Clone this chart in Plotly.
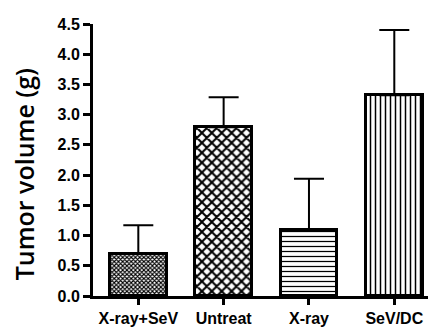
import plotly.graph_objects as go

categories = ["X-ray+SeV", "Untreat", "X-ray", "SeV/DC"]
means = [0.70, 2.79, 1.09, 3.32]
errors = [0.47, 0.50, 0.85, 1.08]
y_ticks = [0.0, 0.5, 1.0, 1.5, 2.0, 2.5, 3.0, 3.5, 4.0, 4.5]
y_tick_labels = ["0.0", "0.5", "1.0", "1.5", "2.0", "2.5", "3.0", "3.5", "4.0", "4.5"]
y_title = "Tumor volume (g)"

patterns = [
    dict(shape="x", size=3, solidity=0.6, fgcolor="black", bgcolor="white", fillmode="replace"),
    dict(shape="x", size=7, solidity=0.5, fgcolor="black", bgcolor="white", fillmode="replace"),
    dict(shape="-", size=5, solidity=0.25, fgcolor="black", bgcolor="white", fillmode="replace"),
    dict(shape="|", size=5, solidity=0.3, fgcolor="black", bgcolor="white", fillmode="replace"),
]

fig = go.Figure()
for i, cat in enumerate(categories):
    fig.add_trace(go.Bar(
        x=[i], y=[means[i]], width=0.665,
        marker=dict(color="white", line=dict(color="black", width=3), pattern=patterns[i]),
        error_y=dict(type="data", symmetric=False, array=[errors[i]], arrayminus=[0],
                     color="black", thickness=2, width=15),
        showlegend=False, hoverinfo="skip",
    ))

fig.update_layout(
    width=428, height=327,
    margin=dict(l=93, r=0, t=24, b=28),
    paper_bgcolor="white", plot_bgcolor="white",
    bargap=0,
    font=dict(family="Liberation Sans, Arial", color="black"),
)
fig.update_xaxes(
    range=[-0.531, 3.395],
    tickmode="array", tickvals=list(range(len(categories))),
    ticktext=["<b>%s</b>" % c for c in categories],
    showline=True, linecolor="black", linewidth=3,
    ticks="outside", ticklen=6, tickwidth=2.5, tickcolor="black",
    tickfont=dict(family="Liberation Sans, Arial", size=16, color="black"),
    showgrid=False, zeroline=False,
)
fig.update_yaxes(
    range=[0, 4.5],
    tickmode="array", tickvals=y_ticks,
    ticktext=["<b>%s</b>" % t for t in y_tick_labels],
    showline=True, linecolor="black", linewidth=3,
    ticks="outside", ticklen=7, tickwidth=2.5, tickcolor="black",
    tickfont=dict(family="Liberation Sans, Arial", size=16, color="black"),
    showgrid=False, zeroline=False,
)
fig.add_annotation(
    text=y_title, textangle=-90, showarrow=False,
    xref="paper", yref="paper", x=(24 - 93) / 335, y=(299 - 176) / 275,
    xanchor="center", yanchor="middle",
    font=dict(family="Open Sans", size=25, color="black", weight=600),
)
fig.write_html("out.html", config={"displayModeBar": False},
               post_script="document.body.style.margin='0';document.body.style.padding='0';")
